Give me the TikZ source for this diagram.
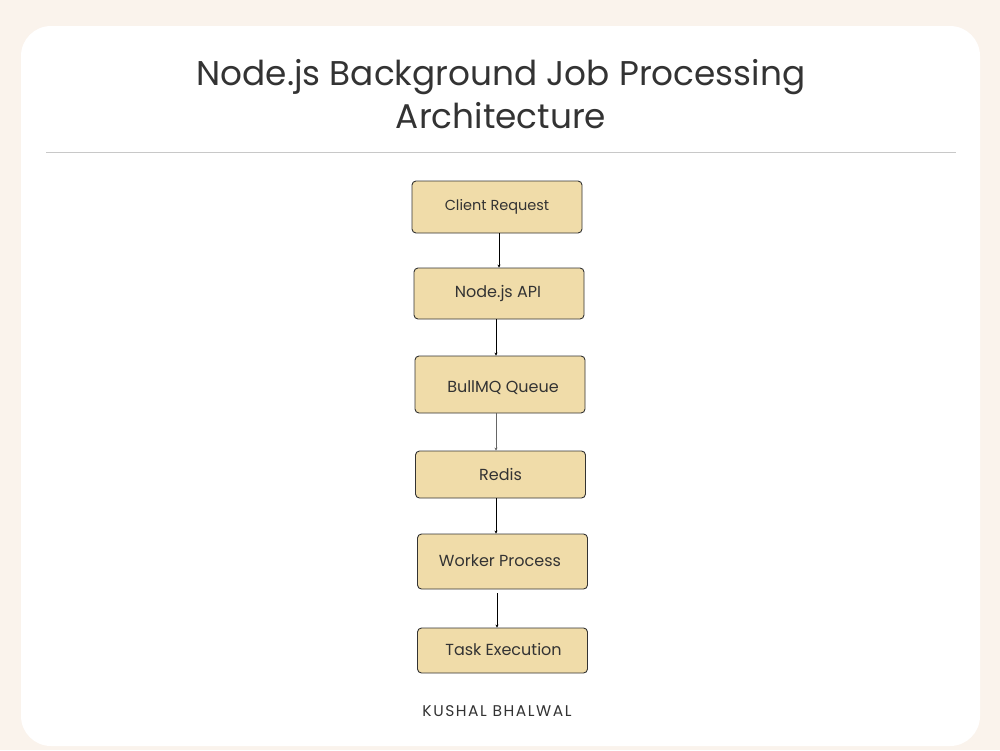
\documentclass[tikz,border=0pt]{standalone}
\usepackage{fontspec}
\setmainfont{Poppins}
\usetikzlibrary{arrows.meta}
\definecolor{bgc}{HTML}{FAF3EC}
\definecolor{boxc}{HTML}{F0DCA9}
\definecolor{txt}{HTML}{333333}
\definecolor{sep}{HTML}{C8C8C8}
\tikzset{
  stepbox/.style={draw=txt, line width=0.9pt, fill=boxc, rounded corners=4pt, minimum width=170pt, inner sep=0pt, text=txt, font=\fontsize{16}{18}\selectfont},
  conn/.style={draw=black, line width=0.8pt, -{Stealth[length=3pt,width=3pt]}},
}
\begin{document}
\begin{tikzpicture}[x=1pt,y=-1pt]
\useasboundingbox (0,0) rectangle (1000,750);
\fill[bgc] (0,0) rectangle (1000,750);
\fill[white, rounded corners=30pt] (21,26) rectangle (980,746);
\node[text=txt, font=\fontsize{34.3}{43}\selectfont, align=center] (title) at (501,94) {Node.js Background Job Processing\\Architecture};
\draw[sep, line width=1pt] (46,152) -- (956,152);
\node[stepbox, minimum height=52pt, font=\fontsize{14.5}{16}\selectfont] (n1) at (497,207) {Client Request};
\node[stepbox, minimum height=51pt] (n2) at (499,293.5) {\hspace*{-2pt}Node.js API};
\node[stepbox, minimum height=57pt] (n3) at (500,384.5) {\hspace*{6pt}\raisebox{-3pt}[\height][\depth]{BullMQ Queue}};
\node[stepbox, minimum height=47pt] (n4) at (500.5,474.5) {Redis};
\node[stepbox, minimum height=55pt] (n5) at (502.5,561.5) {\raisebox{1pt}[\height][\depth]{Worker Process}\hspace*{5pt}};
\node[stepbox, minimum height=45pt] (n6) at (502.5,650.5) {\raisebox{1pt}[\height][\depth]{Task Execution}\hspace*{-2pt}};
\draw[conn] (499,233) -- (n2.north -| 499,0);
\draw[conn] (496,319) -- (n3.north -| 496,0);
\draw[conn, draw=gray!80!black] (496,413) -- (n4.north -| 496,0);
\draw[conn] (496,498) -- (n5.north -| 496,0);
\draw[conn] (497,593) -- (n6.north -| 497,0);
\node[text=txt, font=\fontsize{15.5}{17}\selectfont\addfontfeature{LetterSpace=10}] (footer) at (497,711) {KUSHAL BHALWAL};
\end{tikzpicture}
\end{document}
